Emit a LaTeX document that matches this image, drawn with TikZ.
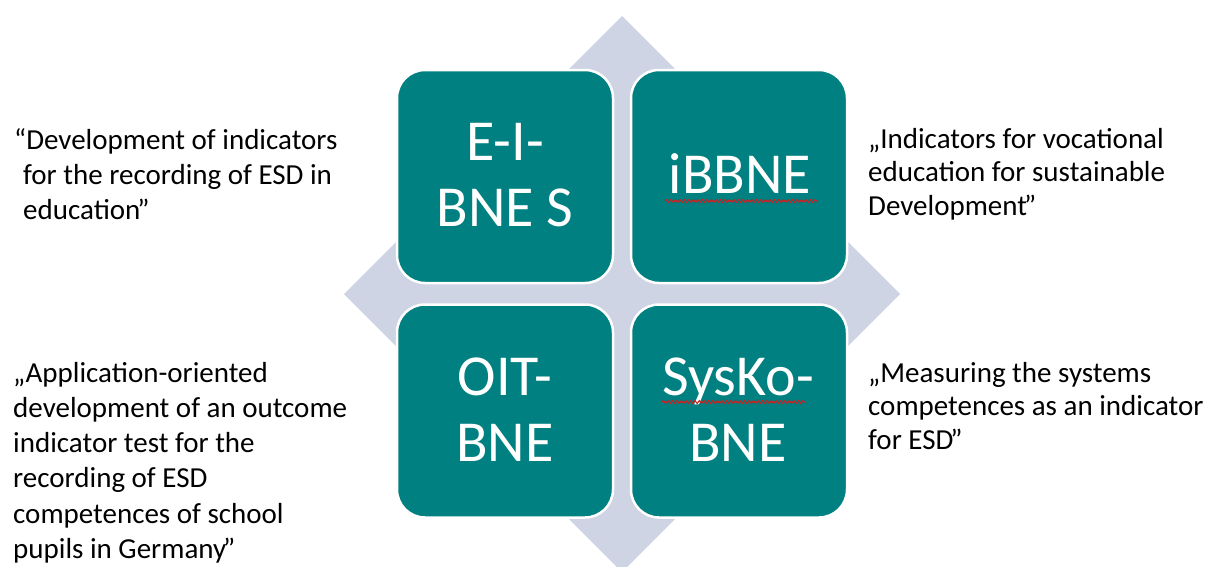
\documentclass[tikz,border=0pt]{standalone}
\usepackage{fontspec}
\setmainfont{Carlito}
\usetikzlibrary{decorations.pathmorphing}
\definecolor{tealbox}{RGB}{0,128,128}
\definecolor{diamondfill}{RGB}{206,212,228}
\definecolor{spellred}{RGB}{204,32,32}
\newcommand{\closeq}{\kern-3pt”}
\begin{document}
\begin{tikzpicture}[x=1pt,y=-1pt,
  tile/.style={shape=rectangle, rounded corners=28pt, fill=tealbox, draw=white,
    line width=2.5pt, minimum width=216pt, minimum height=213pt, inner sep=0pt},
  tiletext/.style={anchor=base, inner sep=0pt, text=white,
    font=\fontsize{58}{66}\selectfont},
  note/.style={anchor=base west, inner sep=0pt, font=\fontsize{29}{35.3}\selectfont},
  notetight/.style={note, font=\fontsize{29}{33.6}\selectfont},
  squiggle/.style={draw=spellred, line width=1.1pt, decorate,
    decoration={snake, amplitude=1.4pt, segment length=4.5pt}}]
\useasboundingbox (0,0) rectangle (1219,566);
\clip (0,0) rectangle (1219,566);

% background diamond
\fill[diamondfill] (622,16) -- (900,294) -- (622,572) -- (344,294) -- cycle;

% the four tiles
\node[tile] (tl) at (505,176.5) {};
\node[tile] (tr) at (739,176.5) {};
\node[tile] (bl) at (505,411) {};
\node[tile] (br) at (739,411) {};

% tile labels
\node[tiletext] (tltext) at (505,160) {\parbox[t]{210pt}{\centering E-I-\\BNE S}};
\node[tiletext] (trtext) at (740,193) {iBBNE};
\node[tiletext] (bltext) at (505,395) {\parbox[t]{210pt}{\centering OIT-\\BNE}};
\node[tiletext] (brtext) at (738,395) {\parbox[t]{210pt}{\centering SysKo-\\BNE}};

% spell-check underlines
\draw[squiggle] (665,201) -- (818,201);
\draw[squiggle] (662,402) -- (805,402);

% project descriptions
\node[note] (ntl) at (23,149) {\parbox[t]{370pt}{\raggedright
  \hspace*{-9pt}“Development of indicators\\
  for the recording of ESD in\\
  education\closeq}};
\node[notetight] (ntr) at (868,148) {\parbox[t]{350pt}{\raggedright
  „Indicators for vocational\\
  education for sustainable\\
  Development\closeq}};
\node[note] (nbl) at (13,382) {\parbox[t]{370pt}{\raggedright
  „Application-oriented\\
  development of an outcome\\
  indicator test for the\\
  recording of ESD\\
  competences of school\\
  pupils in Germany\closeq}};
\node[notetight] (nbr) at (868,382) {\parbox[t]{350pt}{\raggedright
  „Measuring the systems\\
  competences as an indicator\\
  for ESD\closeq}};
\end{tikzpicture}
\end{document}
